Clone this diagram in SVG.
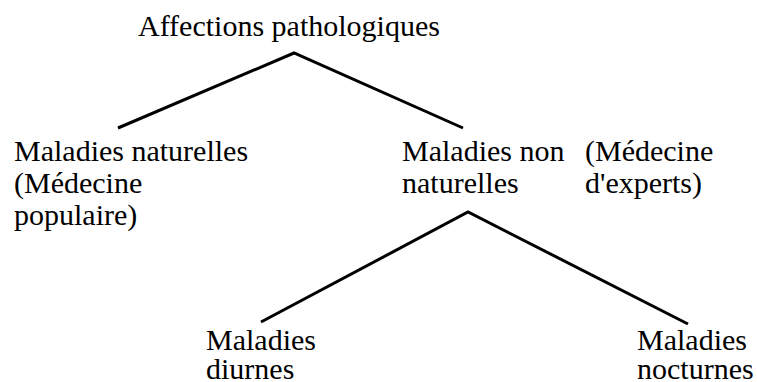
<svg xmlns="http://www.w3.org/2000/svg" width="757" height="382" viewBox="0 0 757 382">
<style>
.edge { stroke: #000; stroke-width: 3; fill: none; stroke-linejoin: miter; }
</style>
<rect width="757" height="382" fill="#fff"/>
<g id="connectors">
<polyline class="edge" points="118,128 294,53 463,128"/>
<polyline class="edge" points="261,322 468,212 688,324"/>
</g>
<g font-family="Liberation Serif, Times New Roman, DejaVu Serif, serif" font-size="30" fill="#000">
<g id="root"><text x="138" y="36">Affections pathologiques</text></g>
<g id="naturelles">
<text x="14" y="161">Maladies naturelles</text>
<text x="14" y="193">(Médecine</text>
<text x="14" y="225">populaire)</text>
</g>
<g id="non-naturelles">
<text x="402" y="161">Maladies non</text>
<text x="402" y="193">naturelles</text>
</g>
<g id="experts">
<text x="585" y="161">(Médecine</text>
<text x="585" y="193">d'experts)</text>
</g>
<g id="diurnes">
<text x="206" y="350">Maladies</text>
<text x="206" y="379">diurnes</text>
</g>
<g id="nocturnes">
<text x="637" y="350">Maladies</text>
<text x="637" y="379">nocturnes</text>
</g>
</g>
</svg>
